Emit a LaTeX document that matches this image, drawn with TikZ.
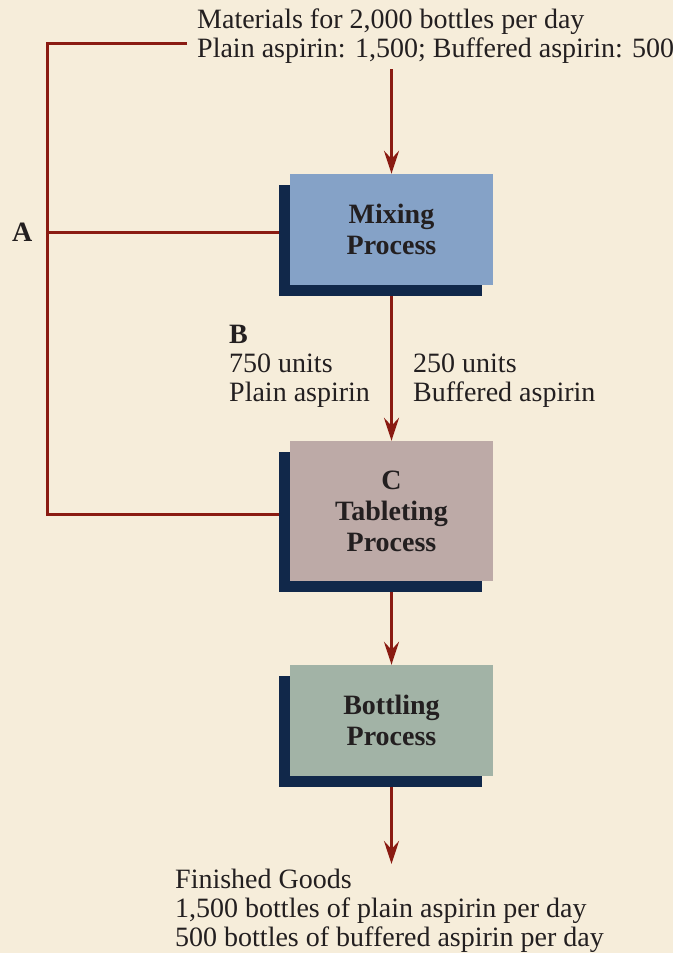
\documentclass[tikz,border=0pt]{standalone}
\usepackage{fontspec}
\setmainfont{Liberation Serif}
\usetikzlibrary{arrows.meta,shadows,positioning}

\definecolor{cream}{HTML}{F6EDDA}
\definecolor{mixblue}{HTML}{85A2C7}
\definecolor{tabrose}{HTML}{BDAAA7}
\definecolor{botgreen}{HTML}{A2B3A6}
\definecolor{navy}{HTML}{11284A}
\definecolor{linered}{HTML}{8A1B12}
\definecolor{ink}{HTML}{231F20}

\begin{document}
\begin{tikzpicture}[x=1pt,y=-1pt,
        flow/.style={-{Stealth[length=23pt,width=15pt,inset=8pt]},line width=3pt,draw=linered},
        link/.style={line width=3pt,draw=linered},
        process/.style={fill=#1,minimum width=203pt,inner sep=0pt,align=center,text=ink,
          font=\fontsize{28}{31}\selectfont\bfseries,
          drop shadow={shadow xshift=-11pt,shadow yshift=-11pt,fill=navy,opacity=1}},
        label/.style={inner sep=0pt,align=left,text=ink,font=\fontsize{28}{29}\selectfont}]

        \fill[cream] (0,0) rectangle (673,953);
        \useasboundingbox (0,0) rectangle (673,953);

        % process boxes
        \node[process=mixblue,minimum height=111pt] (mix) at (391.5,229.5) {Mixing\\Process};
        \node[process=tabrose,minimum height=140pt] (tab) at (391.5,511) {C\\Tableting\\Process};
        \node[process=botgreen,minimum height=111pt] (bot) at (391.5,720.5) {Bottling\\Process};

        % texts (base = last line)
        \node[label,anchor=base west] (materials) at (197,57) {Materials for 2,000 bottles per day\\Plain aspirin: 1,500; Buffered aspirin: 500};
        \node[label,anchor=base west,font=\fontsize{28}{29}\selectfont\bfseries] (a) at (12,241) {A};
        \node[label,anchor=base west] (plain) at (229,401) {\textbf{B}\\750 units\\Plain aspirin};
        \node[label,anchor=base west] (buffered) at (413,401) {250 units\\Buffered aspirin};
        \node[label,anchor=base west] (goods) at (175,946) {Finished Goods\\1,500 bottles of plain aspirin per day\\500 bottles of buffered aspirin per day};

        \coordinate (in) at (391.5,69);
        \coordinate (out) at (391.5,864);
        \coordinate (feed) at (187,43);
        \coordinate (top) at (47,43);
        \coordinate (bend) at (47,514);
        \coordinate (tap) at (47,232);
        \coordinate (mixin) at (279,232);
        \coordinate (tabin) at (279,514);

        \draw[flow] (in) -- (mix);
        \draw[flow] ([yshift=-11pt]mix.south) -- (tab);
        \draw[flow] ([yshift=-11pt]tab.south) -- (bot);
        \draw[flow] ([yshift=-11pt]bot.south) -- (out);

        \draw[link] (feed) -- (top) -- (bend) -- (tabin);
        \draw[link] (tap) -- (mixin);
      \end{tikzpicture}
\end{document}
